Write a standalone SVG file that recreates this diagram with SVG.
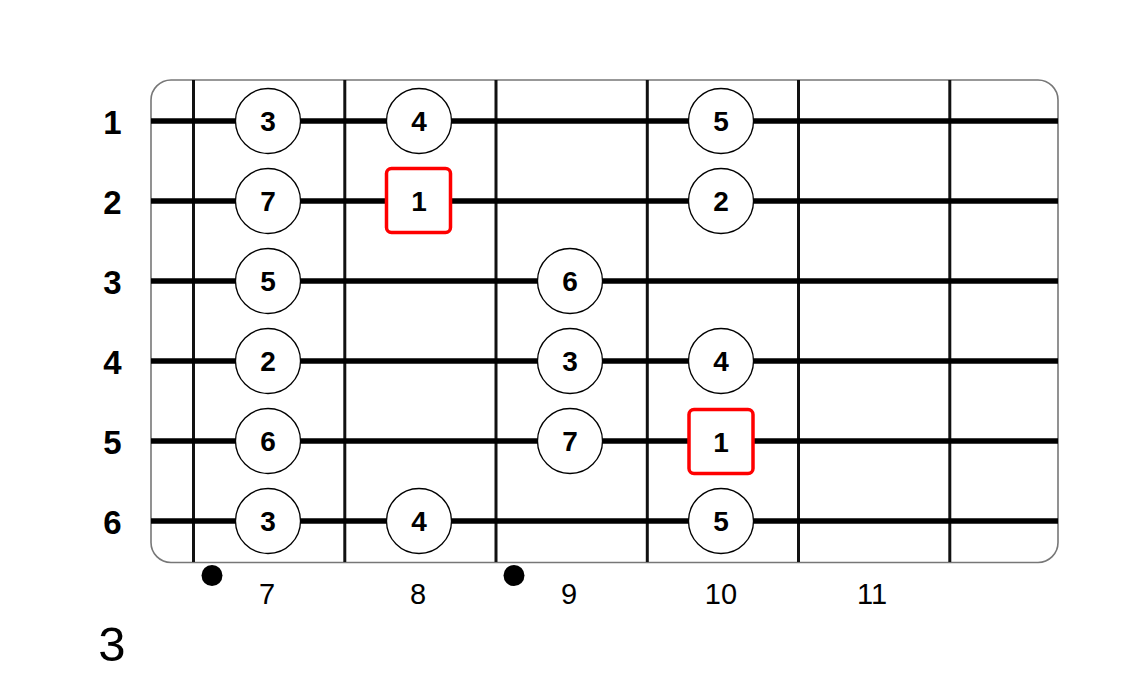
<svg xmlns="http://www.w3.org/2000/svg" width="1132" height="682" viewBox="0 0 1132 682">
<style>
.str{stroke:#000;stroke-width:5.5}
.fret{stroke:#111;stroke-width:3}
.note circle{fill:#fff;stroke:#000;stroke-width:1.3}
.root rect{fill:#fff;stroke:#f00;stroke-width:3.5}
.nt{font-family:"Liberation Sans",Arial,sans-serif;font-weight:bold;font-size:28px;text-anchor:middle;fill:#000}
.sl{font-family:"Liberation Sans",Arial,sans-serif;font-weight:bold;font-size:33px;text-anchor:middle;fill:#000}
.fl{font-family:"Liberation Sans",Arial,sans-serif;font-size:29px;text-anchor:middle;fill:#000}
</style>
<rect width="1132" height="682" fill="#fff"/>
<rect x="151" y="80" width="907" height="482.5" rx="20" fill="#fff" stroke="#777" stroke-width="1.6"/>
<g id="connectors">
<line class="fret" x1="193.5" y1="80" x2="193.5" y2="562"/>
<line class="fret" x1="344.8" y1="80" x2="344.8" y2="562"/>
<line class="fret" x1="496" y1="80" x2="496" y2="562"/>
<line class="fret" x1="647.3" y1="80" x2="647.3" y2="562"/>
<line class="fret" x1="798.5" y1="80" x2="798.5" y2="562"/>
<line class="fret" x1="949.8" y1="80" x2="949.8" y2="562"/>
<line class="str" x1="151" y1="121" x2="1058" y2="121"/>
<line class="str" x1="151" y1="201" x2="1058" y2="201"/>
<line class="str" x1="151" y1="281" x2="1058" y2="281"/>
<line class="str" x1="151" y1="361" x2="1058" y2="361"/>
<line class="str" x1="151" y1="441" x2="1058" y2="441"/>
<line class="str" x1="151" y1="521" x2="1058" y2="521"/>
</g>
<g id="string-labels">
<text class="sl" x="112.5" y="134">1</text>
<text class="sl" x="112.5" y="214">2</text>
<text class="sl" x="112.5" y="294">3</text>
<text class="sl" x="112.5" y="374">4</text>
<text class="sl" x="112.5" y="454">5</text>
<text class="sl" x="112.5" y="534">6</text>
</g>
<g id="n1-3" class="note"><circle cx="268" cy="121" r="32.5"/><text class="nt" x="268" y="131">3</text></g>
<g id="n1-4" class="note"><circle cx="419" cy="121" r="32.5"/><text class="nt" x="419" y="131">4</text></g>
<g id="n1-5" class="note"><circle cx="721" cy="121" r="32.5"/><text class="nt" x="721" y="131">5</text></g>
<g id="n2-7" class="note"><circle cx="268" cy="201" r="32.5"/><text class="nt" x="268" y="211">7</text></g>
<g id="n2-1" class="root"><rect x="386.5" y="168.5" width="64" height="64" rx="5"/><text class="nt" x="419" y="211">1</text></g>
<g id="n2-2" class="note"><circle cx="721" cy="201" r="32.5"/><text class="nt" x="721" y="211">2</text></g>
<g id="n3-5" class="note"><circle cx="268" cy="281" r="32.5"/><text class="nt" x="268" y="291">5</text></g>
<g id="n3-6" class="note"><circle cx="570" cy="281" r="32.5"/><text class="nt" x="570" y="291">6</text></g>
<g id="n4-2" class="note"><circle cx="268" cy="361" r="32.5"/><text class="nt" x="268" y="371">2</text></g>
<g id="n4-3" class="note"><circle cx="570" cy="361" r="32.5"/><text class="nt" x="570" y="371">3</text></g>
<g id="n4-4" class="note"><circle cx="721" cy="361" r="32.5"/><text class="nt" x="721" y="371">4</text></g>
<g id="n5-6" class="note"><circle cx="268" cy="441" r="32.5"/><text class="nt" x="268" y="451">6</text></g>
<g id="n5-7" class="note"><circle cx="570" cy="441" r="32.5"/><text class="nt" x="570" y="451">7</text></g>
<g id="n5-1" class="root"><rect x="689" y="409.5" width="64" height="64" rx="5"/><text class="nt" x="721" y="452">1</text></g>
<g id="n6-3" class="note"><circle cx="268" cy="521" r="32.5"/><text class="nt" x="268" y="531">3</text></g>
<g id="n6-4" class="note"><circle cx="419" cy="521" r="32.5"/><text class="nt" x="419" y="531">4</text></g>
<g id="n6-5" class="note"><circle cx="721" cy="521" r="32.5"/><text class="nt" x="721" y="531">5</text></g>
<g id="markers">
<circle cx="212" cy="575.5" r="10.5" fill="#000"/>
<circle cx="514" cy="575.5" r="10.5" fill="#000"/>
</g>
<g id="fret-labels">
<text class="fl" x="267" y="604">7</text>
<text class="fl" x="418" y="604">8</text>
<text class="fl" x="569" y="604">9</text>
<text class="fl" x="721" y="604">10</text>
<text class="fl" x="872" y="604">11</text>
</g>
<text x="112" y="661" font-family="Liberation Sans, Arial, sans-serif" font-size="49" text-anchor="middle" fill="#000">3</text>
</svg>
